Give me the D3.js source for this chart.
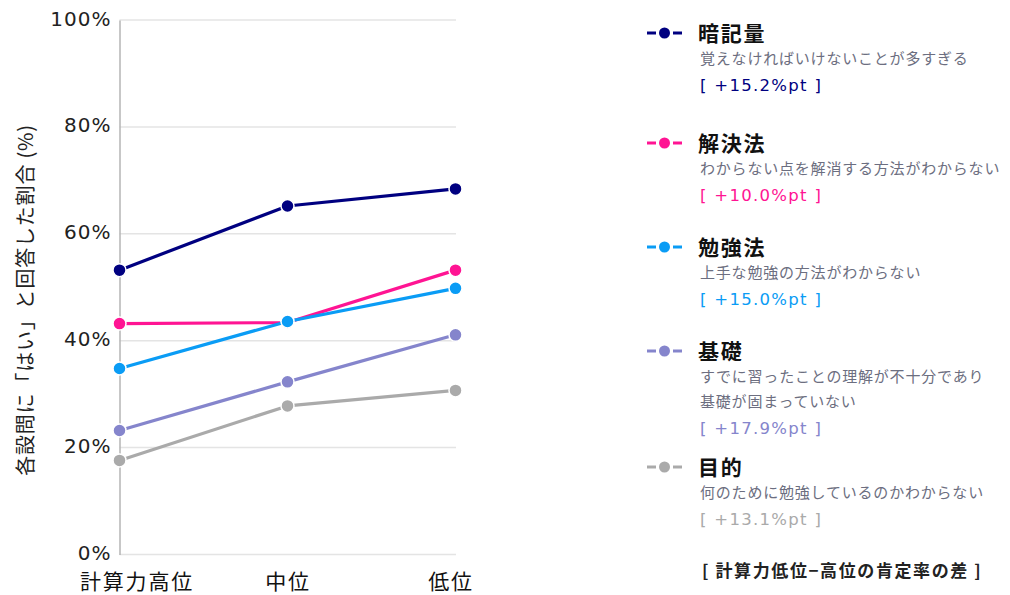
<!DOCTYPE html>
<html>
<head>
<meta charset="utf-8">
<script src="https://cdn.jsdelivr.net/npm/d3@7"></script>
<style>
  html, body { margin: 0; padding: 0; background: #fff; }
  svg { display: block; }
</style>
</head>
<body>
<svg id="chart" width="1010" height="595"></svg>
<script>
// Share of students answering "yes", by calculation-skill group
const groups = ["計算力高位", "中位", "低位"];
const seriesKeys = ["暗記量", "解決法", "勉強法", "基礎", "目的"];
const seriesColors = ["#000080", "#ff1493", "#0a9cf5", "#8585cc", "#aaaaaa"];
const ankiryo   = [53.2, 65.2, 68.4];
const kaiketsu  = [43.2, 43.4, 53.2];
const benkyo    = [34.8, 43.6, 49.8];
const kiso      = [23.2, 32.3, 41.1];
const mokuteki  = [17.6, 27.8, 30.7];
const seriesValues = [ankiryo, kaiketsu, benkyo, kiso, mokuteki];
const descriptions = [
  ["覚えなければいけないことが多すぎる"],
  ["わからない点を解消する方法がわからない"],
  ["上手な勉強の方法がわからない"],
  ["すでに習ったことの理解が不十分であり", "基礎が固まっていない"],
  ["何のために勉強しているのかわからない"]
];
const diffLabels = ["[ +15.2%pt ]", "[ +10.0%pt ]", "[ +15.0%pt ]", "[ +17.9%pt ]", "[ +13.1%pt ]"];
const yTicks = [0, 20, 40, 60, 80, 100];
const yTitle = "各設問に「はい」と回答した割合 (%)";
const footnote = "[ 計算力低位−高位の肯定率の差 ]";

const svg = d3.select("#chart");
const latin = "'DejaVu Sans', Verdana, sans-serif";
const cjk = "'Noto Sans CJK JP', 'Noto Sans', sans-serif";

const x = d3.scalePoint().domain(groups).range([119.5, 455.5]);
const y = d3.scaleLinear().domain([0, 100]).range([554.5, 20]);

// grid lines
svg.append("g")
  .selectAll("line")
  .data(yTicks)
  .join("line")
  .attr("x1", 119.5).attr("x2", 456)
  .attr("y1", d => y(d)).attr("y2", d => y(d))
  .attr("stroke", "#e4e4e4").attr("stroke-width", 1.5);

// left axis
const yAxis = svg.append("g")
  .attr("transform", "translate(119.5,0)")
  .call(d3.axisLeft(y).tickValues(yTicks).tickFormat(d => d + "%").tickSize(0).tickPadding(8));
yAxis.select(".domain").attr("stroke", "#b4b4b4").attr("stroke-width", 1.5);
yAxis.selectAll("text")
  .attr("font-family", latin).attr("font-size", 20).attr("fill", "#222")
  .attr("letter-spacing", 1)
  .attr("dy", "0.25em");

// bottom axis labels
const xAxis = svg.append("g")
  .attr("transform", "translate(0,554.5)")
  .call(d3.axisBottom(x).tickSize(0).tickPadding(19.5));
xAxis.select(".domain").remove();
const labelShift = [17, 0, -5];
xAxis.selectAll("text")
  .attr("font-family", cjk).attr("font-size", 21).attr("fill", "#111")
  .attr("letter-spacing", 1.8)
  .attr("dx", (d, i) => labelShift[i]);

// y axis title
svg.append("text")
  .attr("transform", "translate(33,300) rotate(-90)")
  .attr("text-anchor", "middle")
  .attr("font-family", cjk).attr("font-size", 20).attr("fill", "#222")
  .attr("letter-spacing", 0.8)
  .text(yTitle);

// lines and markers
const line = d3.line().x((d, i) => x(groups[i])).y(d => y(d));
seriesValues.forEach((vals, s) => {
  const g = svg.append("g");
  g.append("path")
    .datum(vals)
    .attr("d", line)
    .attr("fill", "none")
    .attr("stroke", seriesColors[s])
    .attr("stroke-width", 3.2)
    .attr("stroke-linejoin", "round");
  g.selectAll("circle")
    .data(vals)
    .join("circle")
    .attr("cx", (d, i) => x(groups[i]))
    .attr("cy", d => y(d))
    .attr("r", 6.5)
    .attr("fill", seriesColors[s])
    .attr("stroke", "#fff").attr("stroke-width", 1.5);
});

// legend
const legendY = [33, 143, 247, 351, 467];
seriesKeys.forEach((key, s) => {
  const g = svg.append("g").attr("transform", `translate(0,${legendY[s]})`);
  const c = seriesColors[s];
  g.append("line").attr("x1", 647).attr("x2", 656).attr("y1", 0).attr("y2", 0)
    .attr("stroke", c).attr("stroke-width", 3);
  g.append("line").attr("x1", 673).attr("x2", 682).attr("y1", 0).attr("y2", 0)
    .attr("stroke", c).attr("stroke-width", 3);
  g.append("circle").attr("cx", 664.5).attr("cy", 0).attr("r", 5.5).attr("fill", c);
  g.append("text")
    .attr("x", 698).attr("y", 7.5)
    .attr("font-family", cjk).attr("font-size", 21).attr("font-weight", "bold")
    .attr("letter-spacing", 1.8).attr("fill", "#111")
    .text(key);
  const desc = descriptions[s];
  desc.forEach((t, k) => {
    g.append("text")
      .attr("x", 700).attr("y", 31 + k * 25)
      .attr("font-family", cjk).attr("font-size", 15).attr("fill", "#6c6e80")
      .attr("letter-spacing", 0.8)
      .text(t);
  });
  g.append("text")
    .attr("x", 700).attr("y", 31 + (desc.length - 1) * 25 + 27)
    .attr("font-family", latin).attr("font-size", 16.5).attr("fill", c)
    .attr("letter-spacing", 1.3)
    .text(diffLabels[s]);
});

svg.append("text")
  .attr("x", 702).attr("y", 577)
  .attr("font-family", cjk).attr("font-size", 17).attr("font-weight", "bold")
  .attr("fill", "#222").attr("letter-spacing", 1.6)
  .text(footnote);
</script>
</body>
</html>
